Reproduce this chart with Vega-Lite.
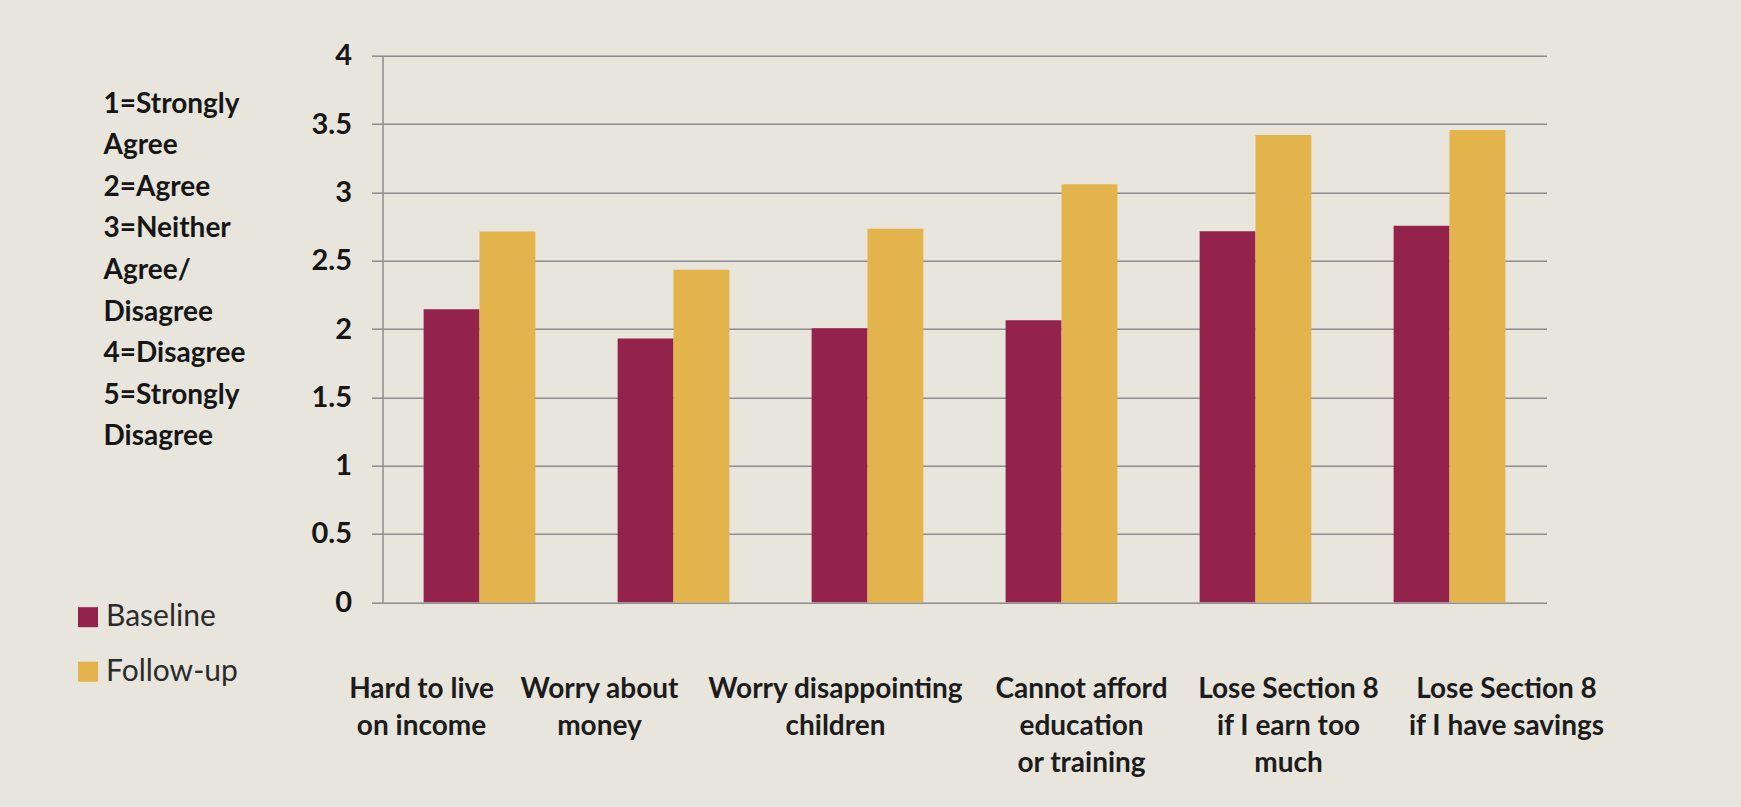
{
  "$schema": "https://vega.github.io/schema/vega-lite/v6.json",
  "autosize": {"type": "none"},
  "padding": {"left": 382.5, "top": 55.7, "right": 194.5, "bottom": 204.7},
  "width": 1164,
  "height": 546.6,
  "background": "#E8E5DC",
  "config": {
    "view": {"stroke": null},
    "font": "Lato"
  },
  "data": {
    "values": [
      {"item": "Hard to live|on income", "wave": "Baseline", "score": 2.145},
      {"item": "Hard to live|on income", "wave": "Follow-up", "score": 2.713},
      {"item": "Worry about|money", "wave": "Baseline", "score": 1.931},
      {"item": "Worry about|money", "wave": "Follow-up", "score": 2.434},
      {"item": "Worry disappointing|children", "wave": "Baseline", "score": 2.005},
      {"item": "Worry disappointing|children", "wave": "Follow-up", "score": 2.733},
      {"item": "Cannot afford|education|or training", "wave": "Baseline", "score": 2.064},
      {"item": "Cannot afford|education|or training", "wave": "Follow-up", "score": 3.059},
      {"item": "Lose Section 8|if I earn too|much", "wave": "Baseline", "score": 2.715},
      {"item": "Lose Section 8|if I earn too|much", "wave": "Follow-up", "score": 3.419},
      {"item": "Lose Section 8|if I have savings", "wave": "Baseline", "score": 2.755},
      {"item": "Lose Section 8|if I have savings", "wave": "Follow-up", "score": 3.456}
    ]
  },
  "mark": {"type": "bar"},
  "encoding": {
    "x": {
      "field": "item",
      "type": "nominal",
      "sort": null,
      "scale": {"paddingInner": 0.424, "paddingOuter": 0.212},
      "axis": {
        "title": null,
        "domain": false,
        "ticks": false,
        "tickSize": 0,
        "labelAngle": 0,
        "labelExpr": "split(datum.value, '|')",
        "labelAlign": "center",
        "labelBaseline": "alphabetic",
        "labelPadding": 95,
        "labelLineHeight": 37,
        "labelFont": "Lato",
        "labelFontWeight": "bold",
        "labelFontSize": 28,
        "labelColor": "#1C1C1C",
        "labelLimit": 0,
        "labelOverlap": false,
        "labelOffset": {
          "condition": [
            {"test": "datum.value === 'Hard to live|on income'", "value": -58},
            {"test": "datum.value === 'Worry about|money'", "value": -74},
            {"test": "datum.value === 'Worry disappointing|children'", "value": -32},
            {"test": "datum.value === 'Cannot afford|education|or training'", "value": 20},
            {"test": "datum.value === 'Lose Section 8|if I earn too|much'", "value": 33}
          ],
          "value": 57
        }
      }
    },
    "xOffset": {"field": "wave", "type": "nominal", "scale": {"paddingInner": 0, "paddingOuter": 0}},
    "y": {
      "field": "score",
      "type": "quantitative",
      "scale": {"domain": [0, 4], "nice": false},
      "axis": {
        "values": [0, 0.5, 1, 1.5, 2, 2.5, 3, 3.5, 4],
        "format": "~g",
        "grid": true,
        "gridColor": "#8C8C8C",
        "gridWidth": 1.5,
        "domain": true,
        "domainColor": "#8C8C8C",
        "domainWidth": 1.5,
        "ticks": true,
        "tickSize": 11,
        "tickColor": "#8C8C8C",
        "tickWidth": 1.5,
        "labelPadding": 20,
        "labelFont": "Lato",
        "labelFontWeight": "bold",
        "labelFontSize": 29,
        "labelColor": "#161616",
        "labelBaseline": "middle",
        "title": ["1=Strongly", "Agree", "2=Agree", "3=Neither", "Agree/", "Disagree", "4=Disagree", "5=Strongly", "Disagree"],
        "titleAngle": 0,
        "titleAlign": "left",
        "titleBaseline": "alphabetic",
        "titleX": -279.5,
        "titleY": 56.3,
        "titleLineHeight": 41.6,
        "titleFont": "Lato",
        "titleFontWeight": "bold",
        "titleFontSize": 28,
        "titleColor": "#161616"
      }
    },
    "color": {
      "field": "wave",
      "type": "nominal",
      "scale": {"domain": ["Baseline", "Follow-up"], "range": ["#93234B", "#E2B44B"]},
      "legend": {
        "title": null,
        "orient": "none",
        "legendX": -309.5,
        "legendY": 546.5,
        "padding": 0,
        "symbolType": "square",
        "symbolSize": 400,
        "symbolStrokeWidth": 0,
        "labelOffset": 3,
        "rowPadding": 24.5,
        "labelFont": "Lato",
        "labelFontSize": 30,
        "labelColor": "#2B2B2B"
      }
    }
  }
}
